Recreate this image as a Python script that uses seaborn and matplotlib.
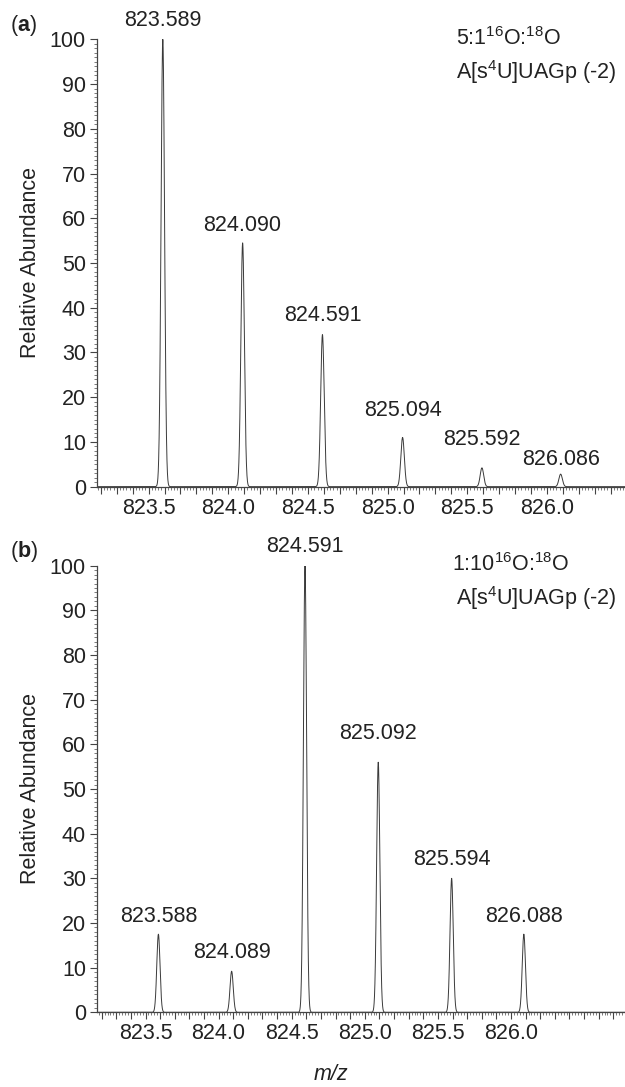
import numpy as np
import pandas as pd
import matplotlib
matplotlib.use("Agg")
import matplotlib.pyplot as plt
from matplotlib.ticker import MultipleLocator, FuncFormatter
import seaborn as sns

# ---------------------------------------------------------------------------
# DATA
# ---------------------------------------------------------------------------
peaks_a_mz = [823.589, 824.090, 824.591, 825.094, 825.592, 826.086]
peaks_a_int = [100.0, 54.5, 34.0, 11.0, 4.2, 2.8]
labels_a = ["823.589", "824.090", "824.591", "825.094", "825.592", "826.086"]

peaks_b_mz = [823.588, 824.089, 824.591, 825.092, 825.594, 826.088]
peaks_b_int = [17.5, 9.2, 100.0, 56.0, 30.0, 17.5]
labels_b = ["823.588", "824.089", "824.591", "825.092", "825.594", "826.088"]

ratio_a = r"5:1$^{16}$O:$^{18}$O"
ratio_b = r"1:10$^{16}$O:$^{18}$O"
species = r"A[s$^4$U]UAGp (-2)"

# layout (label gaps above apex, in points)
gap_a = [6, 5, 6, 12, 13, 3]
gap_b = [5, 6, 6, 13, 6, 5]
xlim_a = (823.176, 826.49)
xlim_b = (823.168, 826.78)
LABEL_MAX = 826.0  # last labelled x tick
PEAK_SIGMA = 0.011  # instrument peak width used to draw the profile


def profile(mz, inten, xlim):
    x = np.linspace(xlim[0], xlim[1], 8000)
    y = np.zeros_like(x)
    for m, h in zip(mz, inten):
        y += h * np.exp(-0.5 * ((x - m) / PEAK_SIGMA) ** 2)
    return pd.DataFrame({"mz": x, "abundance": y})


def xfmt(v, pos):
    if abs(v * 2 - round(v * 2)) < 1e-6 and v <= LABEL_MAX + 1e-6:
        return f"{v:.1f}"
    return ""


# ---------------------------------------------------------------------------
# STYLE
# ---------------------------------------------------------------------------
sns.set_theme(style="ticks")
plt.rcParams["font.family"] = ["Liberation Sans", "DejaVu Sans"]
plt.rcParams["mathtext.fontset"] = "custom"
plt.rcParams["mathtext.rm"] = "Liberation Sans"
plt.rcParams["mathtext.it"] = "Liberation Sans:italic"
plt.rcParams["mathtext.bf"] = "Liberation Sans:bold"
FS = 15.5
TXT = "#222222"

fig = plt.figure(figsize=(6.25, 10.87), dpi=100)
ax_a = fig.add_axes([0.1552, 0.5523, 0.8448, 0.4115])
ax_b = fig.add_axes([0.1552, 0.0687, 0.8448, 0.4109])


def draw_panel(ax, mz, inten, labels, gaps, xlim):
    df = profile(mz, inten, xlim)
    sns.lineplot(data=df, x="mz", y="abundance", ax=ax, color="#3a3a3a",
                 linewidth=0.7, estimator=None, sort=True)
    for m, h, lab, g in zip(mz, inten, labels, gaps):
        ax.annotate(lab, xy=(m, h), xytext=(0, g), textcoords="offset points",
                    ha="center", va="bottom", fontsize=FS, color=TXT)
    ax.set_xlim(*xlim)
    ax.set_ylim(0, 100)
    ax.yaxis.set_major_locator(MultipleLocator(10))
    ax.yaxis.set_minor_locator(MultipleLocator(1))
    ax.xaxis.set_major_locator(MultipleLocator(0.1))
    ax.xaxis.set_minor_locator(MultipleLocator(0.02))
    ax.xaxis.set_major_formatter(FuncFormatter(xfmt))
    ax.tick_params(axis="both", which="major", labelsize=FS, length=5,
                   width=0.8, color="#444444", labelcolor=TXT, pad=3)
    ax.tick_params(axis="both", which="minor", length=2.5, width=0.6,
                   color="#666666")
    ax.set_xlabel("")
    ax.set_ylabel("Relative Abundance", fontsize=FS, color=TXT, labelpad=6)
    for s in ("top", "right"):
        ax.spines[s].set_visible(False)
    for s in ("left", "bottom"):
        ax.spines[s].set_color("#444444")
        ax.spines[s].set_linewidth(0.9)


draw_panel(ax_a, peaks_a_mz, peaks_a_int, labels_a, gap_a, xlim_a)
draw_panel(ax_b, peaks_b_mz, peaks_b_int, labels_b, gap_b, xlim_b)

# panel annotations
fig.text(456 / 625, 1 - 45 / 1087, ratio_a, fontsize=FS, color=TXT, va="baseline")
fig.text(456 / 625, 1 - 79 / 1087, species, fontsize=FS, color=TXT, va="baseline")
fig.text(452 / 625, 1 - 571 / 1087, ratio_b, fontsize=FS, color=TXT, va="baseline")
fig.text(456 / 625, 1 - 605 / 1087, species, fontsize=FS, color=TXT, va="baseline")

fig.text(0.016, 1 - 25 / 1087, r"($\mathbf{a}$)", fontsize=FS, color=TXT, va="center")
fig.text(0.016, 1 - 551 / 1087, r"($\mathbf{b}$)", fontsize=FS, color=TXT, va="center")

fig.text(331 / 625, 1 - 1075 / 1087, "m/z", fontsize=FS, style="italic",
         color=TXT, ha="center", va="center")

fig.savefig("out.png", dpi=100)
plt.close(fig)
